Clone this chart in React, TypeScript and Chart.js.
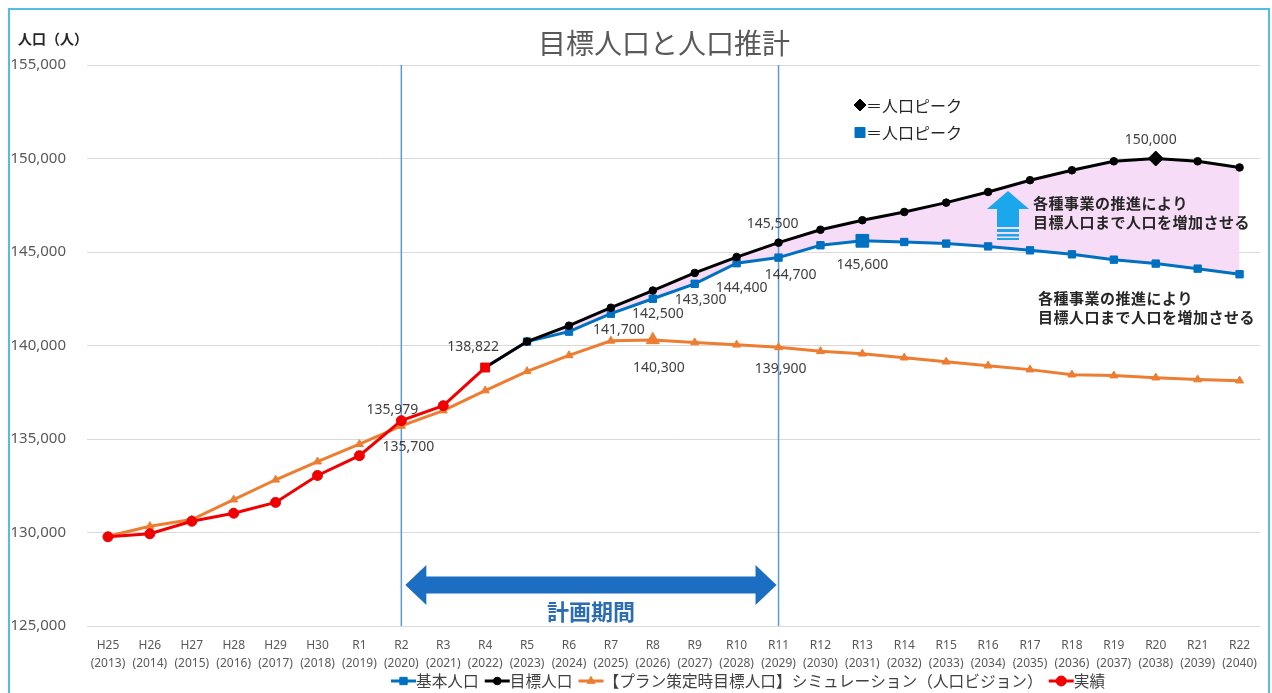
import React, { useEffect, useRef } from "react";
import { Chart, registerables } from "chart.js";
import { drawPoint } from "chart.js/helpers";

Chart.register(...registerables);

// ---- data -------------------------------------------------------------
const eraLabels = [
  "H25", "H26", "H27", "H28", "H29", "H30", "R1", "R2", "R3", "R4",
  "R5", "R6", "R7", "R8", "R9", "R10", "R11", "R12", "R13", "R14",
  "R15", "R16", "R17", "R18", "R19", "R20", "R21", "R22",
];
const yearLabels = [
  "(2013)", "(2014)", "(2015)", "(2016)", "(2017)", "(2018)", "(2019)", "(2020)", "(2021)", "(2022)",
  "(2023)", "(2024)", "(2025)", "(2026)", "(2027)", "(2028)", "(2029)", "(2030)", "(2031)", "(2032)",
  "(2033)", "(2034)", "(2035)", "(2036)", "(2037)", "(2038)", "(2039)", "(2040)",
];

// 実績
const actualPop: (number | null)[] = [
  129770, 129930, 130600, 131030, 131610, 133050, 134110, 135979, 136780, 138822,
  null, null, null, null, null, null, null, null, null, null,
  null, null, null, null, null, null, null, null,
];
// 目標人口
const targetPop: (number | null)[] = [
  null, null, null, null, null, null, null, null, null, 138822,
  140210, 141060, 142020, 142940, 143880, 144730, 145500, 146190, 146700, 147140,
  147640, 148210, 148840, 149370, 149850, 150000, 149850, 149520,
];
// 基本人口
const basePop: (number | null)[] = [
  null, null, null, null, null, null, null, null, null, 138822,
  140210, 140740, 141700, 142500, 143300, 144400, 144700, 145360, 145600, 145535,
  145450, 145300, 145090, 144875, 144590, 144380, 144110, 143810,
];
// 【プラン策定時目標人口】シミュレーション（人口ビジョン）
const planPop: (number | null)[] = [
  129800, 130335, 130690, 131755, 132820, 133790, 134720, 135700, 136520, 137590,
  138620, 139470, 140250, 140300, 140160, 140040, 139900, 139690, 139560, 139350,
  139130, 138920, 138710, 138440, 138390, 138280, 138180, 138120,
];

const yTicks = { min: 125000, max: 155000, step: 5000 };
const planPeriod = { from: "R2", to: "R11" };

// ---- styling ----------------------------------------------------------
const BLUE = "#0070c0";
const BLACK = "#000000";
const ORANGE = "#ed7d31";
const RED = "#f00000";
const PINK = "#f6dcf6";
const GRID = "#d9d9d9";
const TEXT_GRAY = "#595959";
const JP = '"Noto Sans CJK JP", "Noto Sans", sans-serif';
const LATIN = '"Noto Sans", "Liberation Sans", sans-serif';

const lastIndex = (arr: (number | null)[]) => {
  for (let i = arr.length - 1; i >= 0; i--) if (arr[i] !== null) return i;
  return -1;
};
const peakIndex = (arr: (number | null)[]) => {
  let best = -1;
  arr.forEach((v, i) => {
    if (v !== null && (best < 0 || v > (arr[best] as number))) best = i;
  });
  return best;
};

const series: Record<string, (number | null)[]> = {
  actual: actualPop,
  target: targetPop,
  base: basePop,
  plan: planPop,
};

// value callouts: which point, and where its text sits relative to the point
const callouts = [
  { key: "actual", era: "R2", dx: -9, dy: -11 },
  { key: "plan", era: "R2", dx: 7, dy: 21 },
  { key: "actual", era: "R4", dx: -12, dy: -21 },
  { key: "base", era: "R7", dx: 8, dy: 16 },
  { key: "plan", era: "R8", dx: 6, dy: 28 },
  { key: "base", era: "R8", dx: 5, dy: 15 },
  { key: "base", era: "R9", dx: 6, dy: 16 },
  { key: "base", era: "R10", dx: 5, dy: 25 },
  { key: "base", era: "R11", dx: 12, dy: 17 },
  { key: "plan", era: "R11", dx: 2, dy: 22 },
  { key: "target", era: "R11", dx: -6, dy: -19 },
  { key: "base", era: "R13", dx: 0, dy: 24 },
  { key: "target", era: "R20", dx: -5, dy: -18 },
];

const noteLines = ["各種事業の推進により", "目標人口まで人口を増加させる"];

const fmt = (v: number) => v.toLocaleString("en-US");

function marker(ctx: CanvasRenderingContext2D, style: string, r: number, x: number, y: number, color: string) {
  ctx.save();
  ctx.fillStyle = color;
  ctx.strokeStyle = color;
  ctx.lineWidth = 1;
  drawPoint(ctx, { pointStyle: style as any, radius: r, rotation: 0, borderWidth: 1 }, x, y);
  ctx.restore();
}

const decorPlugin = {
  id: "populationDecor",
  beforeDatasetsDraw(chart: any) {
    const { ctx, chartArea, scales } = chart;
    const xs = scales.x;
    ctx.save();
    ctx.strokeStyle = "#5b9bd5";
    ctx.lineWidth = 1.5;
    for (const era of [planPeriod.from, planPeriod.to]) {
      const px = xs.getPixelForValue(eraLabels.indexOf(era));
      ctx.beginPath();
      ctx.moveTo(px, chartArea.top);
      ctx.lineTo(px, chartArea.bottom);
      ctx.stroke();
    }
    ctx.restore();
  },
  afterDatasetsDraw(chart: any) {
    const { ctx, chartArea, scales } = chart;
    const xs = scales.x;
    const ys = scales.y;
    const L = chartArea.left;
    const T = chartArea.top;

    // value callouts
    ctx.save();
    ctx.font = `14px ${LATIN}`;
    ctx.fillStyle = "#404040";
    ctx.textAlign = "center";
    ctx.textBaseline = "middle";
    for (const c of callouts) {
      const i = eraLabels.indexOf(c.era);
      const v = series[c.key][i] as number;
      ctx.fillText(fmt(v), xs.getPixelForValue(i) + c.dx, ys.getPixelForValue(v) + c.dy);
    }
    ctx.restore();

    // planning period double arrow
    const x0 = xs.getPixelForValue(eraLabels.indexOf(planPeriod.from)) + 4;
    const x1 = xs.getPixelForValue(eraLabels.indexOf(planPeriod.to)) - 2;
    const cy = T + 520;
    const sh = 8.5, hh = 20, hl = 21;
    ctx.save();
    ctx.fillStyle = "#1b6ec2";
    ctx.beginPath();
    ctx.moveTo(x0, cy);
    ctx.lineTo(x0 + hl, cy - hh);
    ctx.lineTo(x0 + hl, cy - sh);
    ctx.lineTo(x1 - hl, cy - sh);
    ctx.lineTo(x1 - hl, cy - hh);
    ctx.lineTo(x1, cy);
    ctx.lineTo(x1 - hl, cy + hh);
    ctx.lineTo(x1 - hl, cy + sh);
    ctx.lineTo(x0 + hl, cy + sh);
    ctx.lineTo(x0 + hl, cy + hh);
    ctx.closePath();
    ctx.fill();
    ctx.font = `bold 22px ${JP}`;
    ctx.fillStyle = "#2b6cb3";
    ctx.textAlign = "center";
    ctx.textBaseline = "middle";
    ctx.fillText("計画期間", (x0 + x1) / 2, T + 547);
    ctx.restore();

    // upward arrow with stripes
    const ax = L + 921, ay = T + 126;
    ctx.save();
    ctx.fillStyle = "#1aa7ec";
    ctx.beginPath();
    ctx.moveTo(ax, ay);
    ctx.lineTo(ax + 21, ay + 18);
    ctx.lineTo(ax + 11, ay + 18);
    ctx.lineTo(ax + 11, ay + 36);
    ctx.lineTo(ax - 11, ay + 36);
    ctx.lineTo(ax - 11, ay + 18);
    ctx.lineTo(ax - 21, ay + 18);
    ctx.closePath();
    ctx.fill();
    ctx.fillRect(ax - 11, ay + 38, 22, 3);
    ctx.fillRect(ax - 11, ay + 43, 22, 2.5);
    ctx.fillRect(ax - 11, ay + 47, 22, 2);
    ctx.restore();

    // notes
    ctx.save();
    ctx.font = `bold 15px ${JP}`;
    ctx.fillStyle = "#262626";
    ctx.textAlign = "left";
    ctx.textBaseline = "middle";
    (ctx as any).letterSpacing = "0.5px";
    ctx.fillText(noteLines[0], L + 946, T + 138);
    ctx.fillText(noteLines[1], L + 946, T + 157);
    ctx.fillText(noteLines[0], L + 951, T + 233);
    ctx.fillText(noteLines[1], L + 951, T + 252);
    ctx.restore();

    // peak key
    marker(ctx, "rectRot", 6, L + 773, T + 40, BLACK);
    marker(ctx, "rect", 7.07, L + 773, T + 67.5, BLUE);
    ctx.save();
    ctx.font = `16px ${JP}`;
    ctx.fillStyle = "#262626";
    ctx.textAlign = "left";
    ctx.textBaseline = "middle";
    ctx.fillText("＝人口ピーク", L + 779, T + 41);
    ctx.fillText("＝人口ピーク", L + 779, T + 68);
    ctx.restore();
  },
  afterDraw(chart: any) {
    const { ctx } = chart;
    ctx.save();
    // title
    ctx.font = `28px ${JP}`;
    ctx.fillStyle = TEXT_GRAY;
    ctx.textAlign = "center";
    ctx.textBaseline = "middle";
    ctx.fillText("目標人口と人口推計", 654, 33.5);
    // unit
    ctx.font = `bold 14px ${JP}`;
    ctx.fillStyle = "#262626";
    ctx.textAlign = "left";
    ctx.fillText("人口（人）", 8, 28.5);

    // legend
    const order = [2, 1, 3, 0];
    let x = 381;
    const y = 671;
    ctx.font = `15.7px ${JP}`;
    for (const di of order) {
      const ds = chart.data.datasets[di];
      ctx.strokeStyle = ds.borderColor;
      ctx.lineWidth = 3;
      ctx.beginPath();
      ctx.moveTo(x, y);
      ctx.lineTo(x + 25, y);
      ctx.stroke();
      marker(ctx, ds.legendStyle, ds.legendRadius, x + 12.5, y, ds.borderColor);
      ctx.fillStyle = "#404040";
      ctx.textAlign = "left";
      ctx.textBaseline = "middle";
      ctx.fillText(ds.label, x + 25, y);
      x += 25 + ctx.measureText(ds.label).width + 6;
    }
    ctx.restore();
  },
};

export default function App() {
  const ref = useRef<HTMLCanvasElement | null>(null);

  useEffect(() => {
    if (!ref.current) return;
    const lastActual = lastIndex(actualPop);
    const targetPeak = peakIndex(targetPop);
    const basePeak = peakIndex(basePop);
    const planPeak = peakIndex(planPop);

    const chart = new Chart(ref.current, {
      type: "line",
      data: {
        labels: eraLabels.map((e, i) => [e, yearLabels[i]]),
        datasets: [
          {
            label: "実績",
            data: actualPop,
            borderColor: RED,
            backgroundColor: RED,
            borderWidth: 3,
            pointStyle: actualPop.map((_, i) => (i === lastActual ? "rect" : "circle")),
            pointRadius: actualPop.map((_, i) => (i === lastActual ? 6.3 : 5)),
            pointBorderWidth: 1,
            pointBackgroundColor: RED,
            pointBorderColor: RED,
            tension: 0,
            fill: false,
            legendStyle: "circle",
            legendRadius: 5,
          } as any,
          {
            label: "目標人口",
            data: targetPop,
            borderColor: BLACK,
            backgroundColor: BLACK,
            borderWidth: 3,
            pointStyle: targetPop.map((_, i) => (i === targetPeak ? "rectRot" : "circle")),
            pointRadius: targetPop.map((_, i) => (i === targetPeak ? 7.5 : 3.8)),
            pointBorderWidth: 1,
            pointBackgroundColor: BLACK,
            pointBorderColor: BLACK,
            tension: 0,
            fill: { target: 2, above: PINK, below: PINK },
            legendStyle: "circle",
            legendRadius: 3.8,
          } as any,
          {
            label: "基本人口",
            data: basePop,
            borderColor: BLUE,
            backgroundColor: BLUE,
            borderWidth: 3,
            pointStyle: "rect",
            pointRadius: basePop.map((_, i) => (i === basePeak ? 9 : 5.2)),
            pointBorderWidth: 1,
            pointBackgroundColor: BLUE,
            pointBorderColor: BLUE,
            tension: 0,
            fill: false,
            legendStyle: "rect",
            legendRadius: 5.2,
          } as any,
          {
            label: "【プラン策定時目標人口】シミュレーション（人口ビジョン）",
            data: planPop,
            borderColor: ORANGE,
            backgroundColor: ORANGE,
            borderWidth: 3,
            pointStyle: "triangle",
            pointRadius: planPop.map((_, i) => (i === planPeak ? 7.5 : 4.6)),
            pointBorderWidth: 1,
            pointBackgroundColor: ORANGE,
            pointBorderColor: ORANGE,
            tension: 0,
            fill: false,
            legendStyle: "triangle",
            legendRadius: 4.6,
          } as any,
        ],
      },
      options: {
        responsive: false,
        animation: false,
        events: [],
        layout: { padding: { top: 55, right: 6, left: 0, bottom: 0 } },
        plugins: {
          legend: { display: false },
          tooltip: { enabled: false },
          filler: { drawTime: "beforeDatasetsDraw", propagate: false },
        },
        scales: {
          x: {
            type: "category",
            offset: true,
            grid: { display: false, drawTicks: false },
            border: { display: false },
            ticks: {
              color: TEXT_GRAY,
              font: { family: LATIN, size: 12, lineHeight: 1.5 },
              padding: 11,
              maxRotation: 0,
              autoSkip: false,
            },
            afterFit: (s: any) => {
              s.height = 67;
            },
          },
          y: {
            min: yTicks.min,
            max: yTicks.max,
            grid: { color: GRID, drawTicks: false, lineWidth: 1 },
            border: { display: false },
            ticks: {
              stepSize: yTicks.step,
              color: TEXT_GRAY,
              font: { family: LATIN, size: 15 },
              padding: 21,
              callback: (v: any) => fmt(Number(v)),
            },
            afterFit: (s: any) => {
              s.width = 77;
            },
          },
        },
      } as any,
      plugins: [decorPlugin],
    });
    return () => chart.destroy();
  }, []);

  return (
    <div
      style={{
        position: "fixed",
        left: 8,
        top: 8,
        width: 1258,
        height: 683,
        borderTop: "2px solid #52bfe0",
        borderLeft: "2px solid #52bfe0",
        borderRight: "2px solid #52bfe0",
        background: "#ffffff",
      }}
    >
      <canvas ref={ref} width={1258} height={683} style={{ display: "block" }} />
    </div>
  );
}
